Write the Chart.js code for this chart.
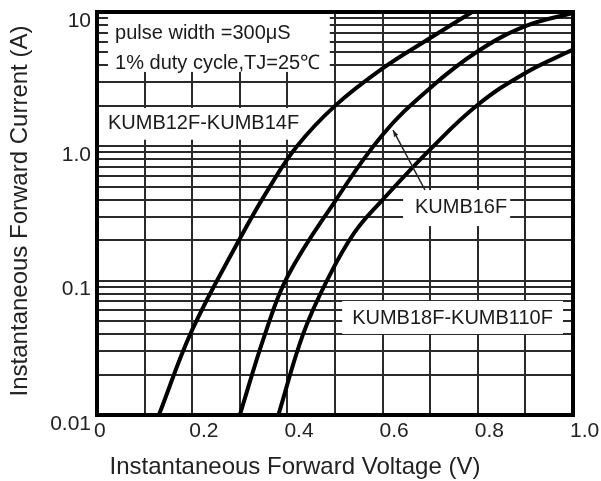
<!DOCTYPE html>
<html>
<head>
<meta charset="utf-8">
<script src="https://cdn.jsdelivr.net/npm/chart.js@4.4.0/dist/chart.umd.min.js"></script>
<style>
  html, body { margin: 0; background: #fff; }
  canvas { display: block; }
</style>
</head>
<body>
<canvas id="chart" width="601" height="481"></canvas>
<script>
/* -------- curves (V, A) -------- */
const vA = [0.130, 0.200, 0.300, 0.360, 0.420, 0.500, 0.600, 0.700, 0.788];
const iA = [0.010, 0.043, 0.205, 0.480, 1.000, 2.000, 3.800, 6.400, 10.00];

const vB = [0.300, 0.353, 0.400, 0.500, 0.600, 0.700, 0.800, 0.900, 1.000];
const iB = [0.010, 0.040, 0.107, 0.390, 1.220, 2.720, 5.100, 7.840, 9.850];

const vC = [0.381, 0.433, 0.483, 0.540, 0.600, 0.700, 0.800, 0.900, 1.000];
const iC = [0.010, 0.040, 0.100, 0.226, 0.400, 0.950, 2.040, 3.520, 5.250];

/* -------- grid / tick labels -------- */
const xGrid   = [0, 0.1, 0.2, 0.3, 0.4, 0.5, 0.6, 0.7, 0.8, 0.9, 1.0];
const xLabels = ['0', '', '0.2', '', '0.4', '', '0.6', '', '0.8', '', '1.0'];
const yGrid   = [0.01, 0.02, 0.03, 0.04, 0.05, 0.06, 0.07, 0.08, 0.09,
                 0.1, 0.2, 0.3, 0.4, 0.5, 0.6, 0.7, 0.8, 0.9,
                 1, 2, 3, 4, 5, 6, 7, 8, 9, 10];
const yLabels = ['0.01', '', '', '', '', '', '', '', '',
                 '0.1', '', '', '', '', '', '', '', '',
                 '1.0', '', '', '', '', '', '', '', '', '10'];

const xTitle = 'Instantaneous Forward Voltage (V)';
const yTitle = 'Instantaneous Forward Current (A)';

/* -------- notes: white boxes + text, placed in data units -------- */
const boxes = [
  { x0: 0.023, x1: 0.489, y0: 9.68, y1: 3.58 },
  { x0: 0.000, x1: 0.479, y0: 1.93, y1: 1.12 },
  { x0: 0.643, x1: 0.868, y0: 0.473, y1: 0.255 },
  { x0: 0.515, x1: 0.979, y0: 0.0706, y1: 0.0401 }
];
const notes = [
  { x: 0.038, y: 6.87,  text: 'pulse width =300μS' },
  { x: 0.038, y: 4.17,  text: '1% duty cycle,TJ=25℃' },
  { x: 0.023, y: 1.48,  text: 'KUMB12F-KUMB14F' },
  { x: 0.668, y: 0.352, text: 'KUMB16F' },
  { x: 0.536, y: 0.0522, text: 'KUMB18F-KUMB110F' }
];
const leader = { x0: 0.622, y0: 1.32, x1: 0.689, y1: 0.473 };

const FONT = '"Liberation Sans", Arial, sans-serif';
Chart.defaults.font.family = FONT;

const pt = (c, x, y) => [c.scales.x.getPixelForValue(x), c.scales.y.getPixelForValue(y)];

const notesPlugin = {
  id: 'notes',
  beforeDatasetsDraw(c) {
    const ctx = c.ctx;
    ctx.save();
    ctx.fillStyle = '#fff';
    boxes.forEach(b => {
      const [x0, y0] = pt(c, b.x0, b.y0), [x1, y1] = pt(c, b.x1, b.y1);
      ctx.fillRect(x0, y0, x1 - x0, y1 - y0);
    });
    ctx.fillStyle = '#1a1a1a';
    ctx.font = '20px ' + FONT;
    ctx.textAlign = 'left';
    ctx.textBaseline = 'middle';
    notes.forEach(n => {
      const [x, y] = pt(c, n.x, n.y);
      ctx.fillText(n.text, x, y);
    });
    ctx.restore();
  },
  afterDraw(c) {
    const ctx = c.ctx, a = c.chartArea;
    ctx.save();
    // leader line with small head
    const [x0, y0] = pt(c, leader.x0, leader.y0), [x1, y1] = pt(c, leader.x1, leader.y1);
    ctx.strokeStyle = '#222'; ctx.lineWidth = 1.5;
    ctx.beginPath(); ctx.moveTo(x0, y0); ctx.lineTo(x1, y1); ctx.stroke();
    const ang = Math.atan2(y0 - y1, x0 - x1);
    ctx.fillStyle = '#222';
    ctx.beginPath();
    ctx.moveTo(x0, y0);
    ctx.lineTo(x0 - 7 * Math.cos(ang - 0.35), y0 - 7 * Math.sin(ang - 0.35));
    ctx.lineTo(x0 - 7 * Math.cos(ang + 0.35), y0 - 7 * Math.sin(ang + 0.35));
    ctx.closePath(); ctx.fill();
    // frame
    ctx.strokeStyle = '#000'; ctx.lineWidth = 4;
    ctx.strokeRect(a.left, a.top, a.right - a.left, a.bottom - a.top);
    // axis titles
    ctx.fillStyle = '#222';
    ctx.font = '24px ' + FONT;
    ctx.textAlign = 'center'; ctx.textBaseline = 'middle';
    ctx.fillText(xTitle, 295, 467);
    ctx.translate(20, 211); ctx.rotate(-Math.PI / 2);
    ctx.fillText(yTitle, 0, 0);
    ctx.restore();
  }
};

const line = (v, i) => ({
  data: v.map((x, k) => ({ x, y: i[k] })),
  borderColor: '#000', borderWidth: 4, pointRadius: 0,
  tension: 0.4, fill: false
});

new Chart(document.getElementById('chart'), {
  type: 'line',
  data: { datasets: [line(vA, iA), line(vB, iB), line(vC, iC)] },
  options: {
    responsive: false, animation: false,
    layout: { padding: { top: 12, right: 28, left: 0, bottom: 0 } },
    plugins: { legend: { display: false }, tooltip: { enabled: false } },
    scales: {
      x: {
        type: 'linear', min: 0, max: 1,
        afterBuildTicks: s => { s.ticks = xGrid.map(v => ({ value: v })); },
        afterFit: s => { s.height = 66; s.paddingLeft = 0; s.paddingRight = 0; },
        grid: { color: '#2a2a2a', lineWidth: 2, drawTicks: false },
        border: { display: false },
        ticks: { autoSkip: false, maxRotation: 0, align: 'start', labelOffset: -3, padding: 4,
                 color: '#222', font: { size: 21 }, callback: (v, k) => xLabels[k] }
      },
      y: {
        type: 'logarithmic', min: 0.01, max: 10,
        afterBuildTicks: s => { s.ticks = yGrid.map(v => ({ value: v })); },
        afterFit: s => { s.width = 97; s.paddingTop = 0; s.paddingBottom = 0; },
        grid: { color: '#2a2a2a', lineWidth: 2, drawTicks: false },
        border: { display: false },
        ticks: { autoSkip: false, labelOffset: 9, padding: 6,
                 color: '#222', font: { size: 21 }, callback: (v, k) => yLabels[k] }
      }
    }
  },
  plugins: [notesPlugin]
});
</script>
</body>
</html>
